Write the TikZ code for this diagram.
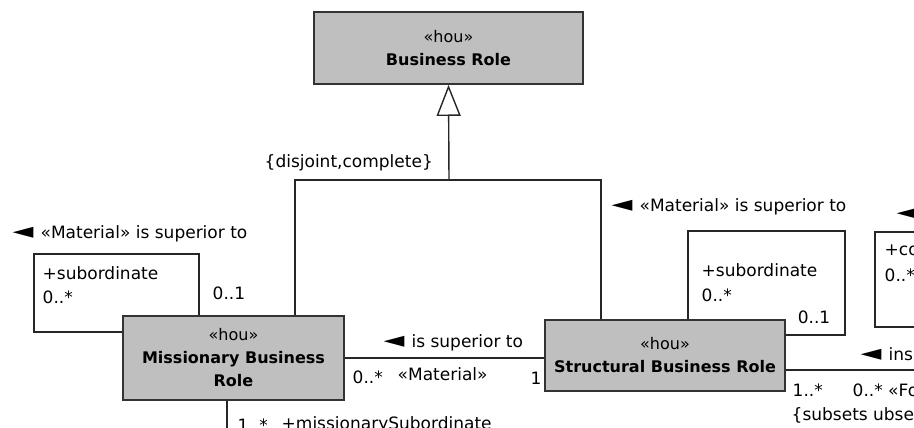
\documentclass[tikz,border=0pt]{standalone}
\usepackage{fontspec}
\setmainfont{DejaVu Sans}
\usetikzlibrary{arrows.meta, positioning, calc}
\newcommand{\readdir}{\scalebox{1.6}[1.3]{◄}\hspace{7pt}}

\begin{document}
\begin{tikzpicture}[x=1pt, y=-1pt, line width=1.4pt, draw=black!85,
    class/.style={draw=black!80, fill=black!25, line width=1.8pt, align=center,
      inner sep=0pt, font=\fontsize{16}{23}\selectfont},
    lbl/.style={anchor=west, inner sep=0pt, font=\fontsize{17}{19}\selectfont},
    gen/.style={-{Triangle[open, length=31pt, width=24pt, fill=white]}}]
  \fill[white] (0,0) rectangle (914,428);
  \useasboundingbox (0,0) rectangle (914,428);
  \clip (0,0) rectangle (914,428);

  % classes
  \node[class, minimum width=269pt, minimum height=72pt] (role) at (448.5,48)
    {«hou»\\\textbf{Business Role}};
  \node[class, minimum width=221pt, minimum height=84pt] (missionary) at (233.5,358)
    {«hou»\\\textbf{Missionary Business}\\\textbf{Role}};
  \node[class, minimum width=240pt, minimum height=71pt] (structural) at (665,355.5)
    {«hou»\\\textbf{Structural Business Role}};

  % generalization
  \coordinate (gen) at (449,180);
  \coordinate (genL) at (295,180);
  \coordinate (genR) at (601,180);
  \draw (missionary.north -| genL) -- (genL) -- (genR) -- (structural.north -| genR);
  \draw[gen] (gen) -- (role.south);
  \node[lbl] (genlbl) at (264,163) {\{disjoint,complete\}};

  % self associations
  \coordinate (mloop) at (34,254);
  \draw ([yshift=26pt]missionary.west) -| (mloop) -| ([xshift=-34.5pt]missionary.north);
  \coordinate (sloop) at (845,231);
  \draw ([xshift=23pt]structural.north) |- (sloop) |- ([yshift=20.5pt]structural.east);

  % associations
  \draw (missionary.east) -- (missionary.east -| structural.west);
  \coordinate (rightend) at (930,370);
  \draw ([yshift=-14.5pt]structural.east) -- (rightend);
  \coordinate (mdown) at (227,440);
  \draw ([xshift=-6.5pt]missionary.south) -- (mdown);
  \draw (950,232) -- (875,232) -- (875,327) -- (950,327);

  % labels
  \node[lbl] (m1) at (12,234) {\readdir«Material» is superior to};
  \node[lbl] (m2) at (42,273) {+subordinate};
  \node[lbl] (m3) at (42,297) {0..*};
  \node[lbl] (m4) at (212,293) {0..1};
  \node[lbl] (s1) at (611,207) {\readdir«Material» is superior to};
  \node[lbl] (s2) at (701,270) {+subordinate};
  \node[lbl] (s3) at (701,295) {0..*};
  \node[lbl, anchor=east] (s4) at (831,317) {0..1};
  \node[lbl] (a1) at (383,343) {\readdir is superior to};
  \node[lbl] (a2) at (352,377) {0..*};
  \node[lbl] (a3) at (397,374) {«Material»};
  \node[lbl] (a4) at (530,378) {1};
  \node[lbl] (r1) at (860,354) {\readdir ins};
  \node[lbl] (r2) at (792,390) {1..*};
  \node[lbl] (r3) at (852,390) {0..* «Fo};
  \node[lbl] (r4) at (791,415) {\{subsets ubse};
  \node[lbl] (c1) at (884,250) {+co};
  \node[lbl] (c2) at (884,275) {0..*};
  \node[lbl] (c3) at (896,214) {\readdir};
  \node[lbl] (d1) at (237,425) {1..*};
  \node[lbl] (d2) at (281,425) {+missionarySubordinate};
\end{tikzpicture}
\end{document}
